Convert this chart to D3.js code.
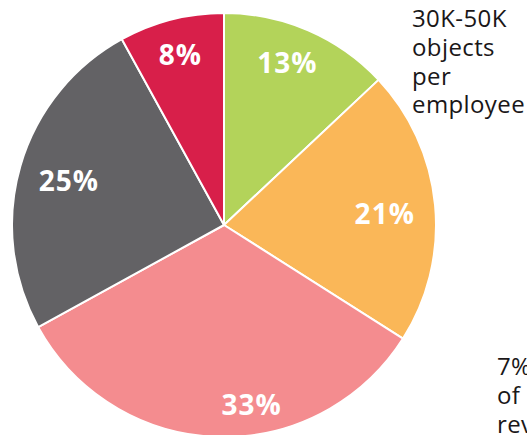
<!DOCTYPE html>
<html>
<head>
<meta charset="utf-8">
<script src="https://cdn.jsdelivr.net/npm/d3@7"></script>
<style>
  body { margin: 0; background: #fff; }
  svg { display: block; font-family: "Open Sans", "Noto Sans", sans-serif; }
</style>
</head>
<body>
<svg id="chart"></svg>
<script>
// slice data, clockwise from 12 o'clock
const labels = ['13%', '21%', '33%', '25%', '8%'];
const values = [13, 21, 33, 25, 8];
const colors = ['#b3d35a', '#fab758', '#f48c8f', '#636265', '#d81f4a'];
const sideNote = ['30K-50K', 'objects', 'per', 'employee'];
const bottomNote = ['7%', 'of', 'rev'];

// label placement tweaks: [angle offset (deg), radius fraction]
const labelAdjust = [[-2, 0.82], [1.5, 0.76], [-10.5, 0.86], [-0.5, 0.76], [0, 0.83]];

const width = 527, height = 435;
const cx = 224, cy = 225, radius = 212;

const svg = d3.select('#chart')
    .attr('width', width)
    .attr('height', height);

const g = svg.append('g')
    .attr('transform', `translate(${cx}, ${cy})`);

const pie = d3.pie().sort(null).value(d => d);
const arcs = pie(values);
const arc = d3.arc().innerRadius(0).outerRadius(radius);

g.selectAll('path')
    .data(arcs)
    .join('path')
    .attr('d', arc)
    .attr('fill', (d, i) => colors[i])
    .attr('stroke', '#fff')
    .attr('stroke-width', 2)
    .attr('stroke-linejoin', 'round');

g.selectAll('text.pct')
    .data(arcs)
    .join('text')
    .attr('class', 'pct')
    .attr('transform', (d, i) => {
        const a = (d.startAngle + d.endAngle) / 2 + labelAdjust[i][0] * Math.PI / 180;
        const r = radius * labelAdjust[i][1];
        return `translate(${r * Math.sin(a)}, ${-r * Math.cos(a)})`;
    })
    .attr('text-anchor', 'middle')
    .attr('dy', '0.36em')
    .attr('fill', '#fff')
    .style('font-size', '28px')
    .style('font-weight', 'bold')
    .style('letter-spacing', '1px')
    .text((d, i) => labels[i]);

// side annotations
svg.append('g')
    .selectAll('text')
    .data(sideNote)
    .join('text')
    .attr('x', 412)
    .attr('y', (d, i) => 27 + i * 28.8)
    .attr('fill', '#1a1718')
    .style('font-size', '24px')
    .style('letter-spacing', '0.4px')
    .text(d => d);

svg.append('g')
    .selectAll('text')
    .data(bottomNote)
    .join('text')
    .attr('x', 497)
    .attr('y', (d, i) => 375 + i * 28.8)
    .attr('fill', '#1a1718')
    .style('font-size', '24px')
    .style('letter-spacing', '0.4px')
    .text(d => d);
</script>
</body>
</html>
